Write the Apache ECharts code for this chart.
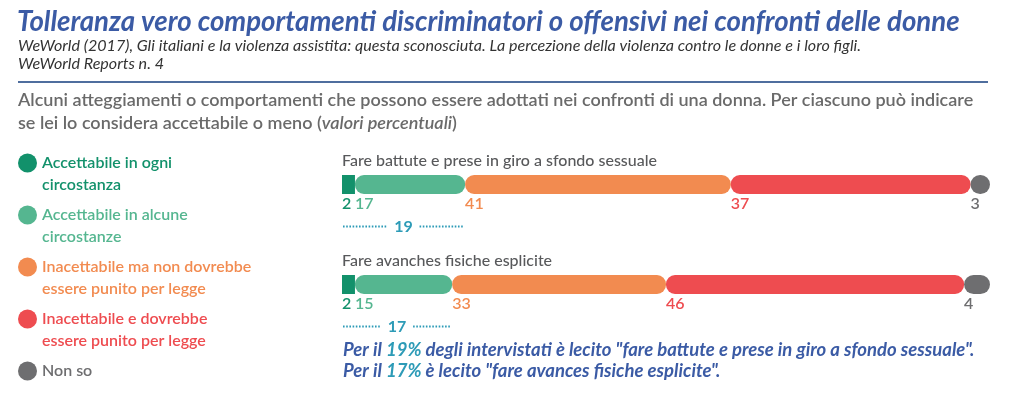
<!DOCTYPE html>
<html><head><meta charset="utf-8">
<script src="https://cdn.jsdelivr.net/npm/echarts@6/dist/echarts.min.js"></script>
<style>html,body{margin:0;padding:0;background:#fff}#c{width:1024px;height:403px}</style>
</head><body><div id="c"></div>
<script>
// ---- data ----
const categories = ['Fare battute e prese in giro a sfondo sessuale', 'Fare avanches fisiche esplicite'];
const seriesNames = ['Accettabile in ogni circostanza', 'Accettabile in alcune circostanze', 'Inacettabile ma non dovrebbe essere punito per legge', 'Inacettabile e dovrebbe essere punito per legge', 'Non so'];
const legendLines = [['Accettabile in ogni', 'circostanza'], ['Accettabile in alcune', 'circostanze'], ['Inacettabile ma non dovrebbe', 'essere punito per legge'], ['Inacettabile e dovrebbe', 'essere punito per legge'], ['Non so', ' ']];
const accettabileOgni = [2, 2];
const accettabileAlcune = [17, 15];
const inacettabileNonPunito = [41, 33];
const inacettabilePunito = [37, 46];
const nonSo = [3, 4];
const accettabileTotale = [19, 17];
const noteValues = ['19%', '17%'];

const colors = ['#12916b', '#55b690', '#f28b50', '#ee4c50', '#6e6e70'];
const radii = [0, 9, 9, 9, 9.5];
const values = [accettabileOgni, accettabileAlcune, inacettabileNonPunito, inacettabilePunito, nonSo];
const blue = '#3b5ba5', teal = '#2d9bb7';
const F = 'Lato, "Open Sans", sans-serif';

const chart = echarts.init(document.getElementById('c'), null, {renderer: 'canvas'});

const barSeries = seriesNames.map((name, k) => ({
  name, type: 'bar', stack: 'tot', barWidth: 19,
  data: values[k],
  itemStyle: {color: colors[k], borderRadius: radii[k]},
  label: {
    show: true, position: [0, 21], align: 'left', verticalAlign: 'top',
    formatter: '{c}', color: colors[k], fontFamily: F, fontSize: 16, fontWeight: 600
  },
  emphasis: {disabled: true}
}));

const annot = {
  type: 'custom', name: 'annot',
  data: categories.map((c, i) => [accettabileTotale[i], i]),
  encode: {x: 0, y: 1},
  silent: true,
  renderItem: function (params, api) {
    const i = api.value(1), tot = api.value(0);
    const p0 = api.coord([0, i]);
    const p1 = api.coord([tot, i]);
    const y = p0[1] + 42;
    const mid = (p0[0] + p1[0]) / 2;
    const gap = 16;
    const ls = {stroke: teal, lineWidth: 2, lineDash: [1.6, 1.6]};
    return {type: 'group', children: [
      {type: 'line', shape: {x1: p0[0] + 1, y1: y, x2: mid - gap, y2: y}, style: ls},
      {type: 'line', shape: {x1: mid + gap, y1: y, x2: p1[0] - 2, y2: y}, style: ls},
      {type: 'text', x: mid, y: y, style: {text: String(tot), fill: teal, font: 'bold 16px ' + F, align: 'center', verticalAlign: 'middle'}},
      {type: 'text', x: p0[0], y: p0[1] - 24, style: {text: categories[i], fill: '#58595b', font: '500 16px ' + F, align: 'left', verticalAlign: 'middle'}}
    ]};
  }
};

chart.setOption({
  animation: false,
  title: [
    {left: 17, top: 8, padding: 0, text: 'Tolleranza vero comportamenti discriminatori o offensivi nei confronti delle donne',
     textStyle: {fontFamily: F, fontSize: 27.6, fontWeight: 'bold', fontStyle: 'italic', color: blue, lineHeight: 28}},
    {left: 18, top: 37, padding: 0, text: 'WeWorld (2017), Gli italiani e la violenza assistita: questa sconosciuta. La percezione della violenza contro le donne e i loro figli.\nWeWorld Reports n. 4',
     textStyle: {fontFamily: F, fontSize: 16.1, fontWeight: 'normal', fontStyle: 'italic', color: '#333', lineHeight: 18}},
    {left: 18, top: 88.5, padding: 0, text: 'Alcuni atteggiamenti o comportamenti che possono essere adottati nei confronti di una donna. Per ciascuno può indicare\n{n|se lei lo considera accettabile o meno (}{i|valori percentuali}{n|)}',
     textStyle: {fontFamily: F, fontSize: 18, fontWeight: 600, color: '#6a6a6a', lineHeight: 23,
       rich: {n: {fontFamily: F, fontSize: 18, fontWeight: 600, color: '#6a6a6a', lineHeight: 23},
              i: {fontFamily: F, fontSize: 18, fontWeight: 600, fontStyle: 'italic', color: '#6a6a6a', lineHeight: 23}}}},
    {left: 343, top: 339.5, padding: 0,
     text: '{b|Per il }{t|' + noteValues[0] + '}{b| degli intervistati è lecito "fare battute e prese in giro a sfondo sessuale".}\n{b|Per il }{t|' + noteValues[1] + '}{b| è lecito "fare avances fisiche esplicite".}',
     textStyle: {rich: {
       b: {fontFamily: F, fontSize: 18.5, fontWeight: 'bold', fontStyle: 'italic', color: blue, lineHeight: 21},
       t: {fontFamily: F, fontSize: 18.5, fontWeight: 'bold', fontStyle: 'italic', color: teal, lineHeight: 21}}}}
  ],
  legend: {
    orient: 'vertical', left: 18, top: 130, height: 290, padding: 0,
    icon: 'circle', itemWidth: 19, itemHeight: 19, itemGap: -14,
    selectedMode: false,
    data: seriesNames.map((n, k) => ({name: n, textStyle: {color: colors[k]}})),
    formatter: function (name) {
      const k = seriesNames.indexOf(name);
      return '\n' + legendLines[k][0] + '\n' + legendLines[k][1];
    },
    textStyle: {fontFamily: F, fontSize: 16, fontWeight: 600, lineHeight: 22}
  },
  grid: {left: 342, width: 648, top: 134.5, height: 200, containLabel: false},
  xAxis: {type: 'value', min: 0, max: 100, show: false},
  yAxis: {type: 'category', inverse: true, data: categories, show: false},
  graphic: [
    {type: 'line', shape: {x1: 18, y1: 82, x2: 988, y2: 82}, style: {stroke: '#4f6e9e', lineWidth: 2}}
  ],
  series: [...barSeries, annot]
});
</script></body></html>
